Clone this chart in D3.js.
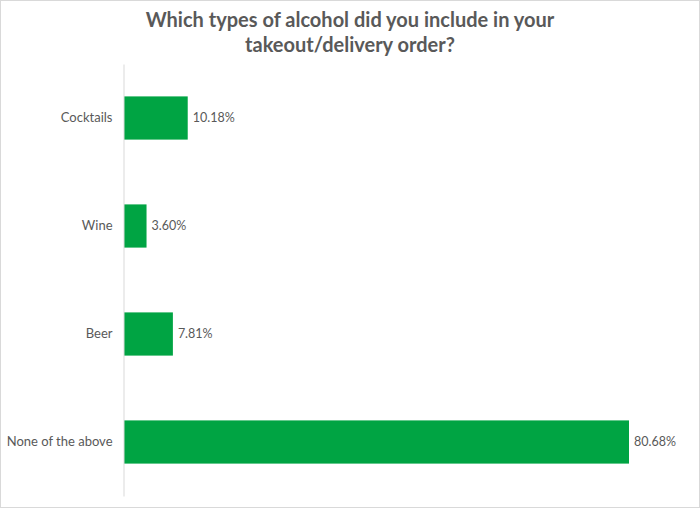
<!DOCTYPE html>
<html>
<head>
<meta charset="utf-8">
<script src="https://cdn.jsdelivr.net/npm/d3@7"></script>
<style>
  body { margin: 0; background: #fff; }
  svg { display: block; font-family: Lato, "Open Sans", sans-serif; }
</style>
</head>
<body>
<svg></svg>
<script>
let categories = ['Cocktails', 'Wine', 'Beer', 'None of the above']
let values = [10.18, 3.60, 7.81, 80.68]
let titleLines = ['Which types of alcohol did you include in your', 'takeout/delivery order?']

let width = 700
let height = 508
let plotLeft = 124
let plotTop = 64
let plotBottom = 496

let svg = d3.select('svg')
  .attr('width', width)
  .attr('height', height)

// light frame round the picture
svg.append('rect')
  .attr('x', 0.5)
  .attr('y', 0.5)
  .attr('width', width - 1)
  .attr('height', height - 1)
  .attr('fill', 'none')
  .attr('stroke', '#d9d9d9')

let xScale = d3.scaleLinear()
  .domain([0, 80.68])
  .range([plotLeft, 629])

let yScale = d3.scaleBand()
  .domain(categories)
  .range([plotTop, plotBottom])
  .paddingInner(0.6)
  .paddingOuter(0.3)

svg.selectAll('.title')
  .data(titleLines)
  .enter()
  .append('text')
  .attr('class', 'title')
  .attr('x', 350)
  .attr('y', (d, i) => 27 + i * 25)
  .attr('text-anchor', 'middle')
  .style('font-size', '20px')
  .style('font-weight', 'bold')
  .style('fill', '#595959')
  .text(d => d)

svg.selectAll('.bar')
  .data(values)
  .enter()
  .append('rect')
  .attr('class', 'bar')
  .attr('x', xScale(0))
  .attr('y', (d, i) => yScale(categories[i]))
  .attr('width', d => xScale(d) - xScale(0))
  .attr('height', yScale.bandwidth())
  .attr('fill', '#00a443')

svg.selectAll('.value')
  .data(values)
  .enter()
  .append('text')
  .attr('class', 'value')
  .attr('x', d => xScale(d) + 5)
  .attr('y', (d, i) => yScale(categories[i]) + yScale.bandwidth() / 2)
  .attr('dy', '0.35em')
  .style('font-size', '12.5px')
  .style('fill', '#595959')
  .text(d => d.toFixed(2) + '%')

let yAxis = d3.axisLeft(yScale).tickSize(0).tickPadding(11)

let axisG = svg.append('g')
  .attr('transform', 'translate(' + (plotLeft - 0.5) + ', 0)')
  .call(yAxis)

axisG.select('.domain').attr('stroke', '#d9d9d9')
axisG.selectAll('text')
  .style('font-size', '13px')
  .style('fill', '#595959')
  .style('font-family', 'Lato, "Open Sans", sans-serif')
</script>
</body>
</html>
